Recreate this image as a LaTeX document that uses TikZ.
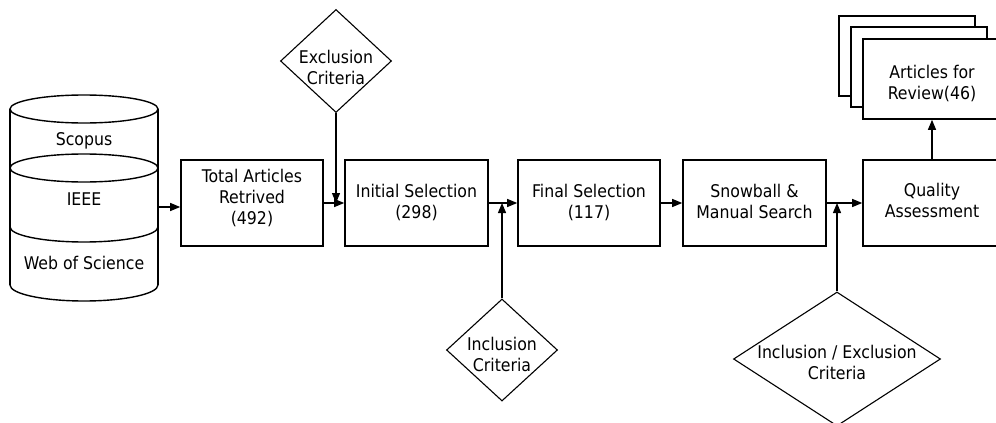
\documentclass[tikz,border=0pt]{standalone}
\usepackage{fontspec}
\setmainfont{DejaVu Sans Condensed}
\usetikzlibrary{shapes.geometric,arrows.meta}
\begin{document}
\begin{tikzpicture}[x=1pt,y=-1pt,
  every node/.style={font=\fontsize{17.5}{21}\selectfont, align=center, text=black},
  procbox/.style={draw, line width=1.6pt, rectangle, minimum width=142pt, minimum height=86pt, inner sep=0pt, fill=white},
  stackbox/.style={draw, line width=1.6pt, rectangle, minimum width=136pt, minimum height=80pt, inner sep=0pt, fill=white},
  decision/.style={draw, line width=1.1pt, diamond, inner sep=0pt},
  conn/.style={line width=1.2pt, -{Triangle[length=10pt,width=8pt]}},
  cyl/.style={line width=1.4pt}
]
\useasboundingbox[fill=white] (0,0) rectangle (996,423);

% database cylinder
\draw[cyl] (84,109) ellipse [x radius=74pt, y radius=14pt];
\draw[cyl] (10,109) -- (10,285) (158,109) -- (158,285);
\draw[cyl] (84,168) ellipse [x radius=74pt, y radius=14pt];
\draw[cyl] (10,227) arc[start angle=180, end angle=360, x radius=74pt, y radius=15pt];
\draw[cyl] (10,285) arc[start angle=180, end angle=360, x radius=74pt, y radius=16pt];
\node (scopus) at (84,141) {Scopus};
\node (ieee) at (84,199) {IEEE};
\node (wos) at (84,263) {Web of Science};
\coordinate (dbout) at (158,207);

% main boxes
\node[procbox] (total) at (252,203) {};
\node (totaltxt) at (252,198) {Total Articles\\Retrived\\(492)};
\node[procbox, minimum width=143pt] (initial) at (416.5,203) {Initial Selection\\(298)};
\node[procbox] (final) at (589,203) {Final Selection\\(117)};
\node[procbox, minimum width=143pt] (snow) at (754.5,203) {};
\node (snowtxt) at (754.5,201) {Snowball \&\\Manual Search};
\node[procbox, minimum width=138pt] (quality) at (932,203) {};
\node (qualtxt) at (932,200.5) {Quality\\Assessment};

% stacked output
\node[stackbox] (back) at (907,56) {};
\node[stackbox] (mid) at (919,67) {};
\node[stackbox] (front) at (931,79) {};
\node (fronttxt) at (932,84) {Articles for\\Review(46)};

% decisions
\node[decision, minimum width=111pt, minimum height=103pt] (excl) at (336,61) {};
\node (excltxt) at (336,67) {Exclusion\\Criteria};
\node[decision, minimum width=111pt, minimum height=102pt] (incl) at (502,350) {};
\node (incltxt) at (502,354) {Inclusion\\Criteria};
\node[decision, minimum width=207pt, minimum height=134pt] (inex) at (837,359) {};
\node (inextxt) at (837,362.5) {Inclusion / Exclusion\\Criteria};

% connectors
\draw[conn] (dbout) -- (dbout -| total.west);
\draw[conn] (total.east) -- (initial.west);
\draw[conn] (excl.south) -- (excl.south |- total.east);
\draw[conn] (initial.east) -- (final.west);
\draw[conn] (incl.north) -- (incl.north |- initial.east);
\draw[conn] (final.east) -- (snow.west);
\draw[conn] (snow.east) -- (quality.west);
\draw[conn] (inex.north) -- (inex.north |- snow.east);
\draw[conn] (quality.north) -- (quality.north |- front.south);
\end{tikzpicture}
\end{document}
